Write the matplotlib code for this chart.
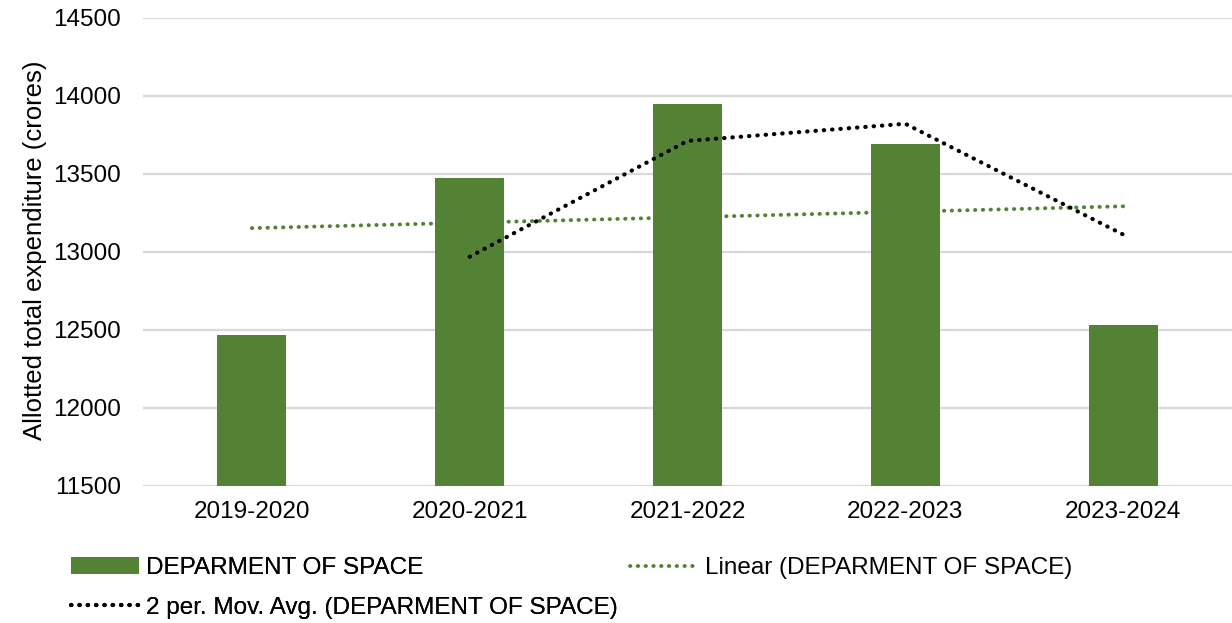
import numpy as np
import matplotlib
matplotlib.use("Agg")
import matplotlib.pyplot as plt

plt.rcParams['font.family'] = ['Liberation Sans', 'DejaVu Sans']

# data
years = ['2019-2020', '2020-2021', '2021-2022', '2022-2023', '2023-2024']
spend = [12465, 13475, 13950, 13695, 12530]
movavg = [12970, 13712, 13822, 13112]      # 2 per. moving average, from 2nd year
trend_ends = [13153, 13293]                 # linear trendline at first / last year

green = '#548235'
fs = 17.5
dots = (0, (0.1, 1.9))

fig = plt.figure(figsize=(12.32, 6.23), dpi=100)
ax = fig.add_axes([143/1232, 1-486/623, 1089/1232, 468/623])

x = np.arange(len(years))
lin, = ax.plot([x[0], x[-1]], trend_ends, color=green, linestyle=dots, linewidth=2.8,
               dash_capstyle='round', zorder=1, label='Linear (DEPARMENT OF SPACE)')
bars = ax.bar(x, np.array(spend) - 11500, bottom=11500, width=0.317, color=green, zorder=2,
              label='DEPARMENT OF SPACE')
mov, = ax.plot(x[1:], movavg, color='black', linestyle=dots, linewidth=3.0,
               dash_capstyle='round', zorder=3, label='2 per. Mov. Avg. (DEPARMENT OF SPACE)')

ax.set_xlim(-0.5, len(years) - 0.5)
ax.set_ylim(11500, 14500)
ax.set_yticks(np.arange(11500, 14501, 500))
ax.set_xticks(x)
ax.set_xticklabels(years)
ax.grid(axis='y', color='#d9d9d9', linewidth=1.6, zorder=0)
ax.set_axisbelow(True)
for s in ax.spines.values():
    s.set_visible(False)
ax.tick_params(length=0, labelsize=fs, colors='black')
ax.tick_params(axis='y', pad=16)
ax.tick_params(axis='x', pad=11)
fig.text(35/1232, 1-250/623, 'Allotted total expenditure (crores)', rotation=90,
         ha='center', va='center', fontsize=18.5)

# legend: two parts so the second column sits where it should
leg1 = fig.legend([bars, mov], ['DEPARMENT OF SPACE', '2 per. Mov. Avg. (DEPARMENT OF SPACE)'],
                  loc='upper left', bbox_to_anchor=(71/1232, 1-557/623), frameon=False,
                  fontsize=fs, handlelength=2.8, handletextpad=0.3, labelspacing=0.72,
                  borderpad=0, borderaxespad=0)
fig.legend([lin], ['Linear (DEPARMENT OF SPACE)'],
           loc='upper left', bbox_to_anchor=(630/1232, 1-557/623), frameon=False,
           fontsize=fs, handlelength=2.8, handletextpad=0.3, borderpad=0, borderaxespad=0)
fig.add_artist(leg1)

fig.savefig('out.png', dpi=100)
